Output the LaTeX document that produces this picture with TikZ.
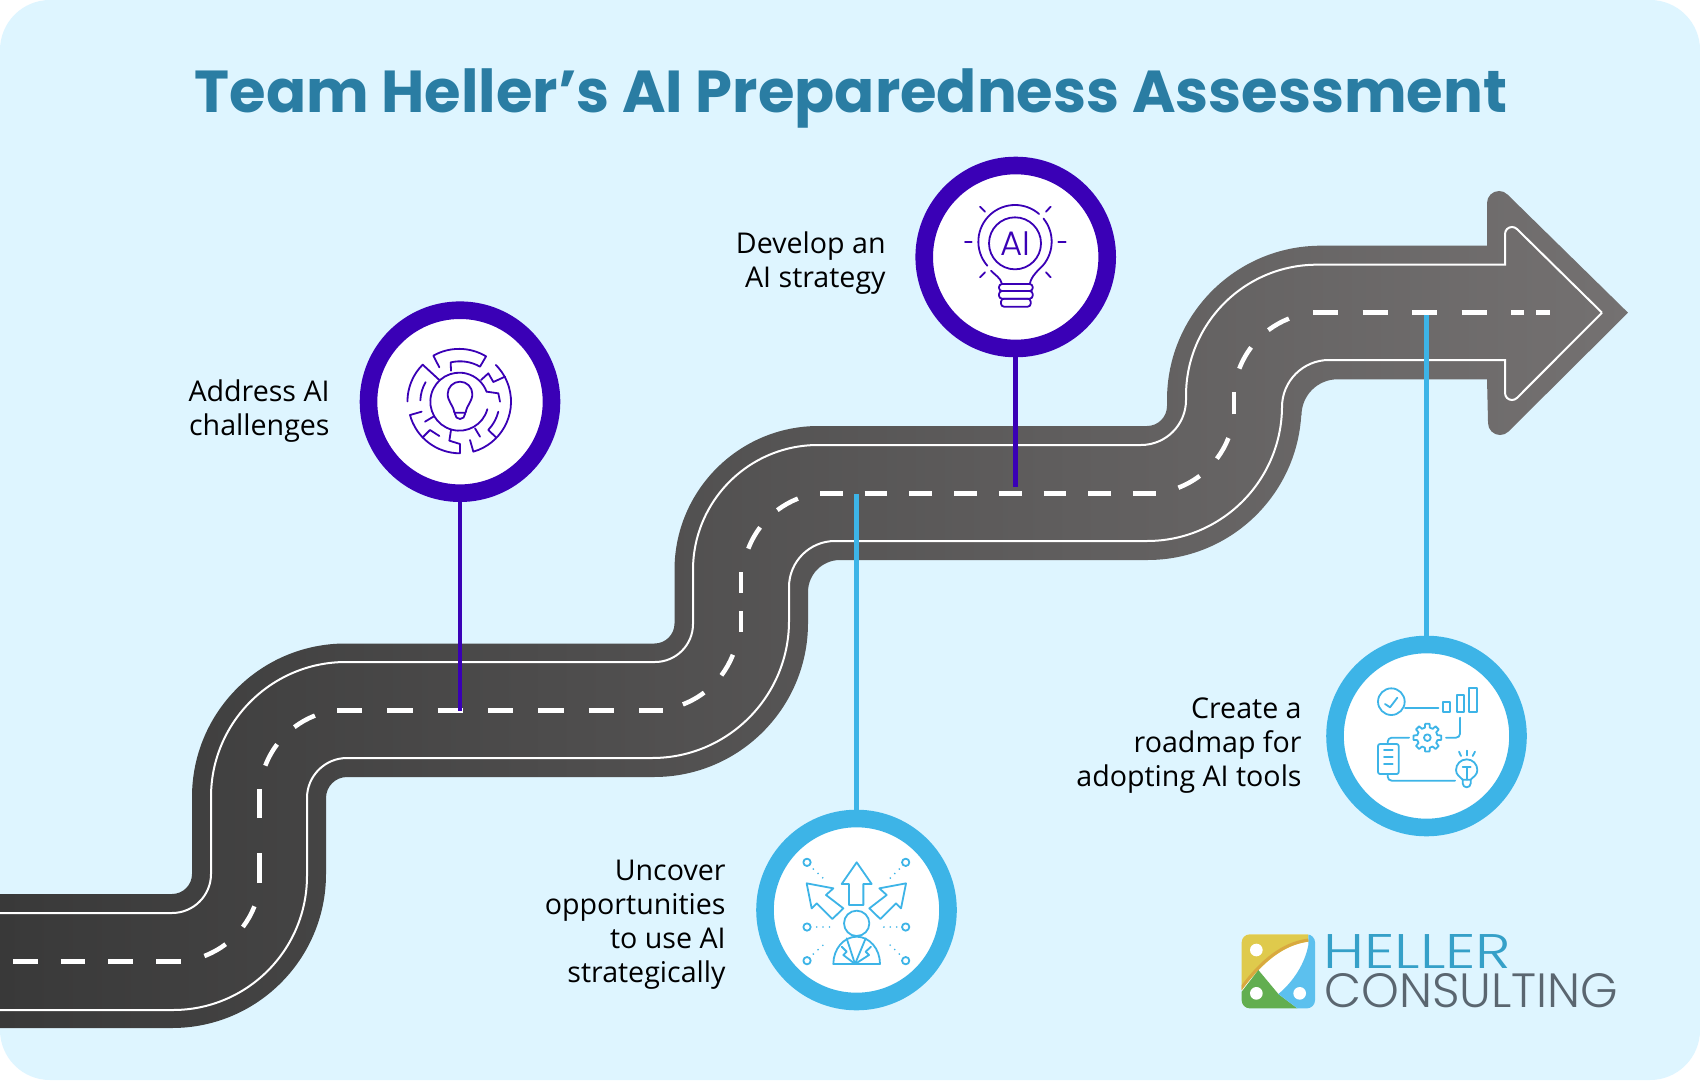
\documentclass[tikz,border=0pt]{standalone}
\usepackage{graphicx}
\usepackage{fontspec}
\setmainfont{Open Sans}
\newfontfamily\headfont{Poppins}
\newfontfamily\logofont[UprightFont=* Light]{Poppins}
\definecolor{sky}{HTML}{DEF5FF}
\definecolor{headblue}{HTML}{2A7DA3}
\definecolor{pinpurple}{HTML}{3A00B6}
\definecolor{pinblue}{HTML}{3DB4E7}
\definecolor{roaddark}{HTML}{393939}
\definecolor{roadlight}{HTML}{747171}
\definecolor{logoyellow}{HTML}{DFCA4C}
\definecolor{logoorange}{HTML}{D9A93F}
\definecolor{logogreen}{HTML}{62AE50}
\definecolor{logoblue}{HTML}{5CC0EE}
\definecolor{logotop}{HTML}{35A0C8}
\definecolor{logolow}{HTML}{5A6670}
\tikzset{
	edgeline/.style={white, line width=1pt},
	lanemark/.style={white, line width=2.25pt},
	ring/.style={circle, fill=white, draw=#1, line width=8.8pt, minimum size=91.5pt, inner sep=0pt},
	pinline/.style={#1, line width=2.25pt},
	steptext/.style={align=right, anchor=east, inner sep=0pt, font=\fontsize{14.3}{17}\selectfont},
	iconline/.style={#1, line width=0.9pt, line cap=round, line join=round},
	zoomed/.style={x=0.16667pt, y=-0.16667pt}
}
\begin{document}
\begin{tikzpicture}[x=0.5pt, y=-0.5pt]
	\useasboundingbox (0,0) rectangle (1700,1080);
	\fill[white] (0,0) rectangle (1700,1080);
	\fill[sky, rounded corners=25pt] (0,0) rectangle (1700,1080);

	\node[anchor=base, inner sep=0pt, text=headblue, font=\headfont\bfseries\fontsize{29.6}{36}\selectfont] (heading) at (851,113) {Team Heller’s AI Preparedness Assessment};

	% road body
	\path[shade, shading=axis, left color=roaddark, right color=roadlight]
		(0,894) -- (172,894) arc[start angle=90, end angle=0, radius=20]
		-- (192,797) arc[start angle=180, end angle=270, radius=153.5]
		-- (654.5,643.5) arc[start angle=90, end angle=0, radius=20]
		-- (674.5,570) arc[start angle=180, end angle=270, radius=144]
		-- (1147,426) arc[start angle=90, end angle=0, radius=20]
		-- (1167,399.7) arc[start angle=180, end angle=270, radius=154]
		-- (1487,245.7) -- (1487,203) arc[start angle=180, end angle=315, radius=12]
		-- (1628,312.7) -- (1508.5,431.5) arc[start angle=45, end angle=180, radius=12]
		-- (1487,379.3) -- (1337.5,379.3) arc[start angle=270, end angle=180, radius=36]
		-- (1301.5,406) arc[start angle=0, end angle=90, radius=154]
		-- (840,560) arc[start angle=270, end angle=180, radius=32]
		-- (808,623) arc[start angle=0, end angle=90, radius=154]
		-- (347,777) arc[start angle=270, end angle=180, radius=21]
		-- (326,874) arc[start angle=0, end angle=90, radius=154]
		-- (0,1028) -- cycle;

	% white edge lines
	\draw[edgeline] (0,913) -- (172,913) arc[start angle=90, end angle=0, radius=39]
		-- (211,797) arc[start angle=180, end angle=270, radius=135]
		-- (655,662) arc[start angle=90, end angle=0, radius=38]
		-- (693,570) arc[start angle=180, end angle=270, radius=125]
		-- (1141,445) arc[start angle=90, end angle=0, radius=45]
		-- (1186,395.7) arc[start angle=180, end angle=270, radius=131]
		-- (1505,264.7) -- (1505,234) arc[start angle=180, end angle=315, radius=7]
		-- (1602,312.7);
	\draw[edgeline] (0,1010) -- (173,1010) arc[start angle=90, end angle=0, radius=134]
		-- (307,798) arc[start angle=180, end angle=270, radius=40]
		-- (652,758) arc[start angle=90, end angle=0, radius=137]
		-- (789,587) arc[start angle=180, end angle=270, radius=46]
		-- (1147,541) arc[start angle=90, end angle=0, radius=135]
		-- (1282,407) arc[start angle=180, end angle=270, radius=47]
		-- (1505,360) -- (1505,393) arc[start angle=180, end angle=45, radius=7]
		-- (1602,312.7);

	% centre dashes
	\draw[lanemark, dash pattern=on 12.3pt off 11.55pt] (13,961.7) -- (181,961.7);
	\draw[lanemark, dash pattern=on 12.65pt off 12.5pt] (337,710.3) -- (663,710.3);
	\draw[lanemark, dash pattern=on 11.35pt off 11pt] (820,493.3) -- (1156,493.3);
	\draw[lanemark, dash pattern=on 12.5pt off 12.25pt] (1313,312.7) -- (1488,312.7);
	\foreach \xa/\xb in {1511/1524, 1536/1550}
		\draw[lanemark] (\xa,312.7) -- (\xb,312.7);
	\foreach \cx/\cy in {173/874.3, 651.5/622.7, 1147/406}
		\foreach \a/\b in {69/53, 37/21.5}
			\draw[lanemark] (\cx,\cy) ++(\a:87.5) arc[start angle=\a, end angle=\b, radius=87.5];
	\foreach \cx/\cy in {347/797, 830/580, 1321/400}
		\foreach \a/\b in {201/217, 233/248.5}
			\draw[lanemark] (\cx,\cy) ++(\a:87.5) arc[start angle=\a, end angle=\b, radius=87.5];
	\foreach \vx/\ya/\yb in {259.5/883/853, 259.5/818/789, 741/631.7/611, 741/592.7/571.7, 1234/414.3/391.7}
		\draw[lanemark] (\vx,\ya) -- (\vx,\yb);

	% rings and pins
	\node[ring=pinpurple] (addressring) at (460,401.7) {};
	\node[ring=pinpurple] (developring) at (1015.7,257) {};
	\node[ring=pinblue] (uncoverring) at (856.5,910) {};
	\node[ring=pinblue] (createring) at (1426.5,736) {};
	\coordinate (addressstop) at (460,711);
	\coordinate (developstop) at (1015.7,487.3);
	\coordinate (uncoverstop) at (856.5,494.3);
	\coordinate (createstop) at (1426.5,315);
	\draw[pinline=pinpurple] (addressring) -- (addressstop);
	\draw[pinline=pinpurple] (developring) -- (developstop);
	\draw[pinline=pinblue] (uncoverring) -- (uncoverstop);
	\draw[pinline=pinblue] (createring) -- (createstop);

	% labels
	\node[steptext] (addresstext) at (330,411) {Address AI\\challenges};
	\node[steptext] (developtext) at (886,263) {Develop an\\AI strategy};
	\node[steptext] (uncovertext) at (726,925) {Uncover\\opportunities\\to use AI\\strategically};
	\node[steptext] (createtext) at (1302,745.5) {Create a\\roadmap for\\adopting AI tools};

	% maze icon
	\begin{scope}[shift={(350,290)}, zoomed, iconline=pinpurple]
		\draw (328,335) ++(15:87) arc[start angle=15, end angle=340, radius=87];
		\draw (268,232) -- (250,197) arc[start angle=240.5, end angle=301, radius=157] -- (390,230) arc[start angle=300, end angle=256.5, radius=120] -- (303,242);
		\draw (268,270) -- (218,224) arc[start angle=225, end angle=180, radius=156];
		\draw (328,335) ++(210:117) arc[start angle=210, end angle=182, radius=117];
		\draw (215,365) -- (180,375) arc[start angle=165, end angle=90, radius=155] -- (330,462) -- (298,452) -- (303,420);
		\draw (250,380) -- (225,395);
		\draw (268,438) -- (240,420) -- (218,442);
		\draw (360,450) -- (370,485) arc[start angle=74, end angle=-45, radius=156];
		\draw (465,260) -- (430,276) -- (415,250) -- (393,270);
		\draw (410,305) -- (445,310) -- (450,335);
		\draw (445,365) arc[start angle=14, end angle=44, radius=121] -- (438,442);
		\draw (375,415) -- (390,440);
		\draw (313,368) .. controls (310,345) and (293,335) .. (293,312) arc[start angle=180, end angle=360, radius=37] .. controls (367,335) and (350,345) .. (347,368) -- cycle;
		\draw (315,368) -- (315,372) arc[start angle=180, end angle=0, radius=15] -- (345,368);
	\end{scope}

	% bulb icon
	\begin{scope}[shift={(905,150)}, zoomed, iconline=pinpurple]
		\draw (330,275) ++(139:110) arc[start angle=139, end angle=311, radius=110];
		\draw (330,275) ++(-39:110) arc[start angle=-39, end angle=40, radius=110] .. controls (400,360) and (378,380) .. (375,400);
		\draw (258,362) .. controls (270,375) and (288,385) .. (290,400);
		\draw (330,280) circle[radius=78];
		\node[text=pinpurple, inner sep=0pt, font=\logofont\fontsize{17}{18}\selectfont] (aitext) at (330,281) {AI};
		\draw[rounded corners=1.5pt] (282,402) rectangle (383,423);
		\draw[rounded corners=1.5pt] (282,423) rectangle (383,446);
		\draw[rounded corners=1.5pt] (288,446) rectangle (377,470);
		\foreach \xa/\ya/\xb/\yb in {180/275/200/275, 460/275/482/275, 225/170/240/185, 437/170/423/185, 240/367/225/382, 423/367/437/382}
			\draw (\xa,\ya) -- (\xb,\yb);
	\end{scope}

	% arrows icon
	\begin{scope}[shift={(745,800)}, zoomed, iconline=pinblue]
		\draw (335,187) -- (380,252) -- (355,252) -- (355,315) -- (312,315) -- (312,252) -- (290,252) -- cycle;
		\draw (185,250) -- (265,265) -- (243,285) -- (295,325) -- (262,357) -- (215,310) -- (200,325) -- cycle;
		\draw (483,250) -- (403,265) -- (425,285) -- (373,325) -- (406,357) -- (453,310) -- (468,325) -- cycle;
		\draw (335,370) circle[radius=38];
		\draw (265,492) arc[start angle=180, end angle=360, x radius=70, y radius=82] -- cycle;
		\draw (305,415) -- (330,492) -- (362,415);
		\draw (290,440) -- (305,455) -- (295,465) -- (330,492) -- (372,465) -- (362,455) -- (378,440);
		\foreach \cx/\cy in {186/187, 482/187, 186/381, 482/381, 186/482, 482/482}
			\draw (\cx,\cy) circle[radius=11];
		\foreach \xa/\ya/\xb/\yb in {205/207/240/240, 463/207/430/240, 215/381/265/381, 455/381/405/381, 205/462/240/430, 463/462/430/430}
			\draw[dash pattern=on 0pt off 3.2pt] (\xa,\ya) -- (\xb,\yb);
	\end{scope}

	% roadmap icon
	\begin{scope}[shift={(1320,630)}, zoomed, iconline=pinblue]
		\draw (214,215) circle[radius=40];
		\draw (195,222) -- (210,232) -- (232,203);
		\draw (255,235) -- (355,235);
		\draw (370,215) rectangle (390,245);
		\draw (410,195) rectangle (432,245);
		\draw (448,175) rectangle (472,245);
		\draw (420,263) -- (420,311) arc[start angle=0, end angle=90, radius=12] -- (378,323);
		\draw[shift={(322,323)}] (-14:31) \foreach \a in {0,45,...,315} { -- ({\a-14}:31) -- ({\a-9}:42) -- ({\a+9}:42) -- ({\a+14}:31) } -- cycle;
		\draw (322,323) circle[radius=10];
		\draw (267,323) -- (215,323) arc[start angle=270, end angle=180, radius=12] -- (203,342);
		\draw[rounded corners=1pt] (174,342) rectangle (236,432);
		\foreach \y in {360,381,402}
			\draw (192,\y) -- (218,\y);
		\draw (203,432) -- (203,440) arc[start angle=180, end angle=90, radius=12] -- (405,452);
		\draw (428,449) .. controls (420,440) and (408,435) .. (408,420) arc[start angle=180, end angle=360, radius=32] .. controls (472,435) and (460,440) .. (452,449) -- cycle;
		\draw (428,449) -- (428,460) arc[start angle=180, end angle=0, radius=12] -- (452,449);
		\draw (428,412) -- (452,412);
		\draw (440,412) -- (440,449);
		\draw (417,365) -- (423,378);
		\draw (440,362) -- (440,376);
		\draw (465,365) -- (458,378);
	\end{scope}

	% logo
	\begin{scope}[shift={(1220,920)}, zoomed]
		\clip[rounded corners=4pt] (65,43) rectangle (285,265);
		\fill[white] (65,43) rectangle (285,265);
		\fill[logoyellow] (65,43) -- (265,43) -- (265,65) .. controls (190,75) and (130,125) .. (65,210) -- cycle;
		\fill[logogreen] (115,150) -- (65,215) -- (65,265) -- (232,265) -- (175,222) -- cycle;
		\fill[logoblue] (265,75) .. controls (255,130) and (220,185) .. (175,222) -- (232,265) -- (285,265) -- (285,43) -- (265,43) -- cycle;
		\draw[logoorange, line width=1.5pt] (265,60) .. controls (190,70) and (125,120) .. (62,207);
		\foreach \cx/\cy in {109/90, 109/220, 239/220}
			\fill[white] (\cx,\cy) circle[radius=19];
	\end{scope}
	\node[anchor=south west, inner sep=0pt, text=logotop] (logotopword) at (1323,969) {\resizebox{94pt}{17pt}{\logofont\fontsize{24}{24}\selectfont HELLER}};
	\node[anchor=south west, inner sep=0pt, text=logolow] (logolowword) at (1324,1008) {\resizebox{147pt}{17pt}{\logofont\fontsize{24}{24}\selectfont CONSULTING}};
\end{tikzpicture}
\end{document}
